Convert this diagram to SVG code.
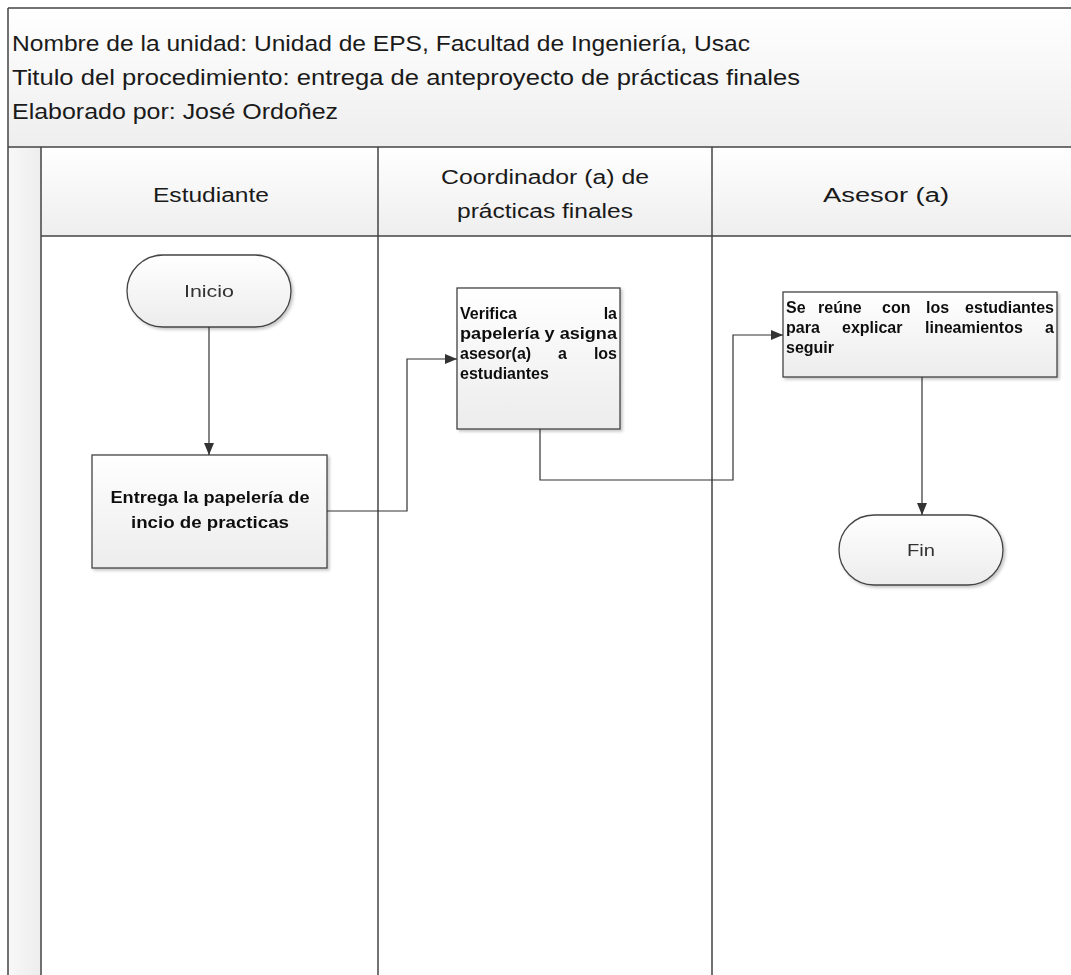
<svg xmlns="http://www.w3.org/2000/svg" width="1071" height="975" viewBox="0 0 1071 975">
<style>
.t{font-family:"Liberation Sans",Arial,sans-serif;fill:#1a1a1a}
.title{font-size:22px}
.lane{font-size:20px;text-anchor:middle}
.b{font-family:"Liberation Sans",Arial,sans-serif;font-size:16px;font-weight:bold;fill:#111}
.term{font-family:"Liberation Sans",Arial,sans-serif;font-size:16px;fill:#333;text-anchor:middle}
.ln{stroke:#444;stroke-width:1.5;fill:none}
.shape{stroke:#444;stroke-width:1.3;fill:url(#g)}
.con{stroke:#333;stroke-width:1.2;fill:none;marker-end:url(#ar)}
</style>
<defs>
<linearGradient id="g" x1="0" y1="0" x2="0" y2="1"><stop offset="0" stop-color="#ffffff"/><stop offset="1" stop-color="#ececec"/></linearGradient>
<linearGradient id="hg" x1="0" y1="0" x2="0" y2="1"><stop offset="0" stop-color="#ffffff"/><stop offset="1" stop-color="#eeeeee"/></linearGradient>
<linearGradient id="sg" x1="0" y1="0" x2="1" y2="0"><stop offset="0" stop-color="#f8f8f8"/><stop offset="1" stop-color="#ededed"/></linearGradient>
<filter id="sh" x="-10%" y="-10%" width="130%" height="130%"><feDropShadow dx="2" dy="2" stdDeviation="1.5" flood-color="#000" flood-opacity="0.22"/></filter>
<marker id="ar" viewBox="0 0 12 10" refX="12" refY="5" markerWidth="12" markerHeight="10" markerUnits="userSpaceOnUse" orient="auto"><path d="M0,0 L12,5 L0,10 z" fill="#333"/></marker>
</defs>
<rect width="1071" height="975" fill="#ffffff"/>
<g id="pool">
<rect x="8" y="8" width="1070" height="139" fill="url(#hg)"/>
<rect x="41" y="147" width="1040" height="89" fill="url(#hg)"/>
<rect x="8" y="147" width="33" height="828" fill="url(#sg)"/>
<path class="ln" d="M8,8 H1071 M8,8 V975 M8,147 H1071 M41,236 H1071 M41,147 V975 M378,147 V975 M712,147 V975"/>
<text class="t title" x="12" y="51" textLength="738" lengthAdjust="spacingAndGlyphs">Nombre de la unidad: Unidad de EPS, Facultad de Ingeniería, Usac</text>
<text class="t title" x="12" y="85" textLength="788" lengthAdjust="spacingAndGlyphs">Titulo del procedimiento: entrega de anteproyecto de prácticas finales</text>
<text class="t title" x="12" y="119" textLength="326" lengthAdjust="spacingAndGlyphs">Elaborado por: José Ordoñez</text>
</g>
<g id="lane-estudiante"><text class="t lane" x="211" y="202" textLength="116" lengthAdjust="spacingAndGlyphs">Estudiante</text></g>
<g id="lane-coordinador"><text class="t lane" x="545" y="184" textLength="208" lengthAdjust="spacingAndGlyphs">Coordinador (a) de</text><text class="t lane" x="545" y="218" textLength="176" lengthAdjust="spacingAndGlyphs">prácticas finales</text></g>
<g id="lane-asesor"><text class="t lane" x="886" y="202" textLength="126" lengthAdjust="spacingAndGlyphs">Asesor (a)</text></g>
<g id="inicio" filter="url(#sh)"><rect class="shape" x="127" y="255" width="164" height="72" rx="36"/><text class="term" x="209" y="297" textLength="50" lengthAdjust="spacingAndGlyphs">Inicio</text></g>
<g id="entrega" filter="url(#sh)"><rect class="shape" x="92" y="455" width="235" height="113"/>
<text class="b" x="210" y="503" text-anchor="middle" textLength="199" lengthAdjust="spacingAndGlyphs">Entrega la papelería de</text>
<text class="b" x="210" y="528" text-anchor="middle" textLength="158" lengthAdjust="spacingAndGlyphs">incio de practicas</text></g>
<g id="verifica" filter="url(#sh)"><rect class="shape" x="457" y="288" width="163" height="141"/>
<text class="b" y="319"><tspan x="460">Verifica</tspan><tspan x="617" text-anchor="end">la</tspan></text>
<text class="b" x="460" y="339" textLength="157" lengthAdjust="spacingAndGlyphs">papelería y asigna</text>
<text class="b" y="359"><tspan x="460">asesor(a)</tspan><tspan x="558">a</tspan><tspan x="617" text-anchor="end">los</tspan></text>
<text class="b" x="460" y="379">estudiantes</text></g>
<g id="reune" filter="url(#sh)"><rect class="shape" x="783" y="292" width="274" height="85"/>
<text class="b" y="313"><tspan x="786">Se</tspan><tspan x="818">reúne</tspan><tspan x="882">con</tspan><tspan x="926">los</tspan><tspan x="1054" text-anchor="end">estudiantes</tspan></text>
<text class="b" y="333"><tspan x="786">para</tspan><tspan x="842">explicar</tspan><tspan x="925">lineamientos</tspan><tspan x="1054" text-anchor="end">a</tspan></text>
<text class="b" x="786" y="353">seguir</text></g>
<g id="fin" filter="url(#sh)"><rect class="shape" x="839" y="515" width="164" height="70" rx="35"/><text class="term" x="921" y="556" textLength="28" lengthAdjust="spacingAndGlyphs">Fin</text></g>
<g id="connectors">
<path class="con" d="M209,327 V455"/>
<path class="con" d="M327,511 H407 V359 H457"/>
<path class="con" d="M540,429 V480 H733 V335 H783"/>
<path class="con" d="M922,377 V515"/>
</g>
</svg>
